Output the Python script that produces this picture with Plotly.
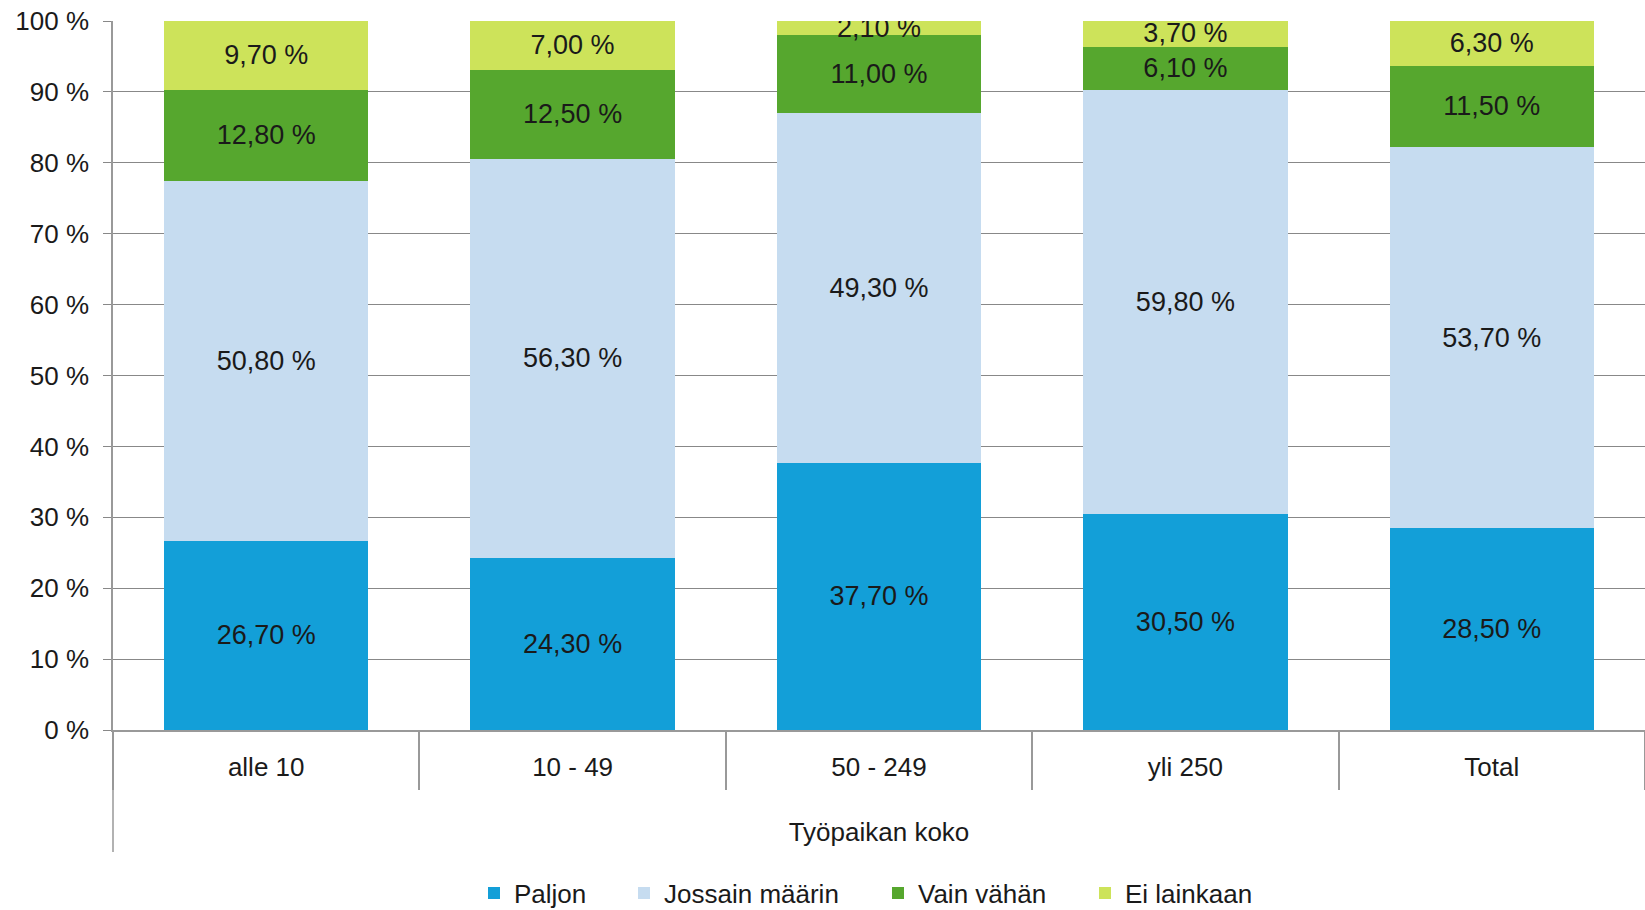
import plotly.graph_objects as go

categories = ["alle 10", "10 - 49", "50 - 249", "yli 250", "Total"]
series_names = ["Paljon", "Jossain määrin", "Vain vähän", "Ei lainkaan"]
paljon = [26.7, 24.3, 37.7, 30.5, 28.5]
jossain = [50.8, 56.3, 49.3, 59.8, 53.7]
vain = [12.8, 12.5, 11.0, 6.1, 11.5]
ei = [9.7, 7.0, 2.1, 3.7, 6.3]
y_ticks = [0, 10, 20, 30, 40, 50, 60, 70, 80, 90, 100]
y_tick_labels = [f"{t} %" for t in y_ticks]
colors = ["#139FD8", "#C6DCF0", "#56A72E", "#CDE35A"]

FONT = "Liberation Sans, Arial, sans-serif"
TXT = "#1a1a1a"

# layout geometry (pixels); plot runs just past the right edge of the window
W, H = 1650, 910
L, R, T, B = 113, 5, 21, 180
PW = W - L - R
PH = H - T - B
PLOT_BOTTOM = T + PH

def fmt(v):
    return f"{v:.2f}".replace(".", ",") + " %"

legend_names = ["legend", "legend2", "legend3", "legend4"]
legend_px = [474, 624, 878, 1085]

fig = go.Figure()
for name, vals, col, lg in zip(series_names, [paljon, jossain, vain, ei], colors, legend_names):
    fig.add_trace(go.Bar(
        x=categories, y=vals, name=name,
        marker=dict(color=col, line=dict(width=0)),
        text=[fmt(v) for v in vals],
        textposition="inside", insidetextanchor="middle",
        constraintext="none",
        textfont=dict(family=FONT, size=27, color=TXT),
        cliponaxis=True,
        legend=lg,
    ))

# invisible trace for the divider axis
fig.add_trace(go.Scatter(x=categories, y=[0]*len(categories), xaxis="x2",
                         mode="markers", marker=dict(opacity=0), showlegend=False,
                         hoverinfo="skip"))

legend_y = -(893 - PLOT_BOTTOM) / PH
legends = {}
for lg, px in zip(legend_names, legend_px):
    legends[lg] = dict(orientation="h", x=(px - L) / PW, xanchor="left", y=legend_y,
                       yanchor="middle", font=dict(size=26, color=TXT, family=FONT),
                       itemwidth=30, bgcolor="rgba(0,0,0,0)")

fig.update_layout(
    width=W, height=H,
    margin=dict(l=L, r=R, t=T, b=B, autoexpand=False),
    barmode="stack", bargap=0.333,
    plot_bgcolor="white", paper_bgcolor="white",
    font=dict(family=FONT, size=26, color=TXT),
    showlegend=True,
    xaxis=dict(
        type="category", showgrid=False, showline=True, linecolor="#999", linewidth=1.5,
        ticks="outside", ticklen=13, tickcolor="rgba(0,0,0,0)",
        tickfont=dict(size=26, color=TXT), automargin=False,
        title=dict(text="Työpaikan koko", font=dict(size=26, color=TXT), standoff=42),
    ),
    xaxis2=dict(
        type="category", overlaying="x", matches="x", side="bottom",
        showticklabels=False, showgrid=False, showline=False,
        ticks="outside", tickson="boundaries", ticklen=59, tickcolor="#999", tickwidth=1.5,
        anchor="y", automargin=False,
    ),
    yaxis=dict(
        range=[0, 100], tickvals=y_ticks, ticktext=y_tick_labels,
        showgrid=True, gridcolor="#888", gridwidth=1,
        showline=True, linecolor="#999", linewidth=1.5,
        ticks="outside", ticklen=8, tickcolor="#888", ticklabelstandoff=9,
        ticklabeloverflow="allow",
        tickfont=dict(size=26, color=TXT),
        zeroline=False, automargin=False,
    ),
    shapes=[dict(type="line", xref="paper", yref="paper", x0=0, x1=0, y0=0,
                 y1=-(852 - PLOT_BOTTOM) / PH, line=dict(color="#999", width=1.5))],
    **legends,
)

fig.write_html("out.html", config={"displayModeBar": False},
               post_script="document.body.style.margin='0';document.body.style.overflow='hidden';")
